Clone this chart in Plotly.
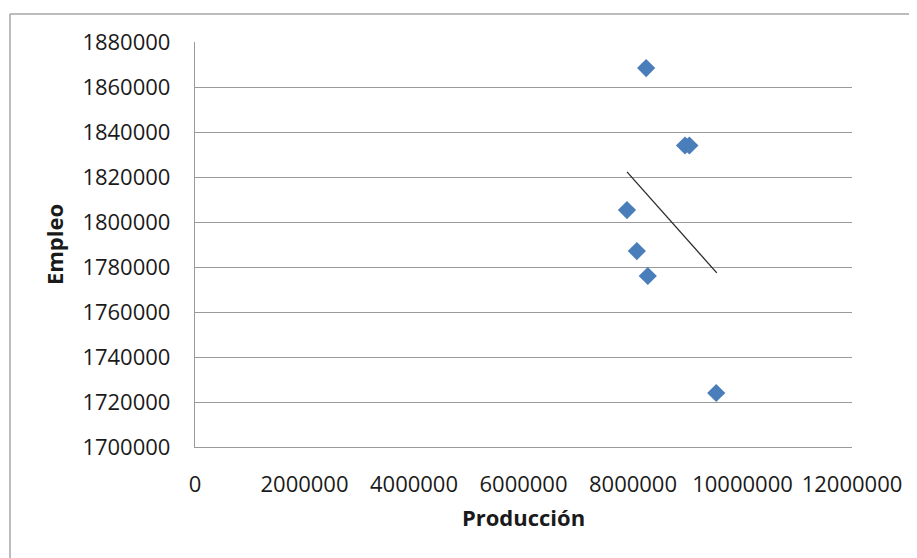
import plotly.graph_objects as go

# Data
produccion = [8240000, 8950000, 9030000, 7890000, 8070000, 8270000, 9520000]
empleo = [1868400, 1834000, 1834000, 1805300, 1787100, 1776000, 1724000]

# trend line end points (as drawn)
trend_x = [7890000, 9530000]
trend_y = [1822300, 1777400]

x_ticks = [0, 2000000, 4000000, 6000000, 8000000, 10000000, 12000000]
y_ticks = [1700000, 1720000, 1740000, 1760000, 1780000, 1800000, 1820000,
           1840000, 1860000, 1880000]

FONT = "Open Sans"

fig = go.Figure()
fig.add_trace(go.Scatter(
    x=trend_x, y=trend_y, mode="lines",
    line=dict(color="#2b2b2b", width=1.3), showlegend=False, hoverinfo="skip"))
fig.add_trace(go.Scatter(
    x=produccion, y=empleo, mode="markers",
    marker=dict(symbol="diamond", size=14, color="#4a7ebb",
                line=dict(width=0)),
    showlegend=False))

L, T, W, H = 187, 34, 657, 405

fig.update_layout(
    width=917, height=558,
    margin=dict(l=L, r=917 - L - W, t=T, b=558 - T - H),
    paper_bgcolor="white", plot_bgcolor="white",
    font=dict(family=FONT, size=22, color="#1a1a1a"),
    xaxis=dict(
        range=[0, 12000000], tickvals=x_ticks,
        ticktext=[str(v) for v in x_ticks],
        showgrid=False, zeroline=False,
        showline=True, linecolor="#9a9a9a", linewidth=1.3,
        ticks="", ticklabelstandoff=17,
        tickfont=dict(size=22, family=FONT, color="#1a1a1a"),
        title=dict(text="<b>Producción</b>", standoff=14,
                   font=dict(size=22, family=FONT, color="#1a1a1a")),
    ),
    yaxis=dict(
        range=[1700000, 1880000], tickvals=y_ticks,
        ticktext=[str(v) for v in y_ticks],
        showgrid=True, gridcolor="#9a9a9a", gridwidth=1.3,
        zeroline=False,
        showline=True, linecolor="#9a9a9a", linewidth=1.3,
        ticks="", ticklabelstandoff=19,
        tickfont=dict(size=22, family=FONT, color="#1a1a1a"),
        title=dict(text="<b>Empleo</b>", standoff=12,
                   font=dict(size=22, family=FONT, color="#1a1a1a")),
    ),
    shapes=[
        dict(type="line", xref="paper", yref="paper",
             x0=(2 - L) / W, x1=1.2, y0=(T + H - 6) / H, y1=(T + H - 6) / H,
             line=dict(color="#a6a6a6", width=1.5)),
        dict(type="line", xref="paper", yref="paper",
             x0=(2 - L) / W, x1=(2 - L) / W, y0=(T + H - 6) / H, y1=-0.4,
             line=dict(color="#a6a6a6", width=1.5)),
    ],
)

fig.write_html("out.html")
